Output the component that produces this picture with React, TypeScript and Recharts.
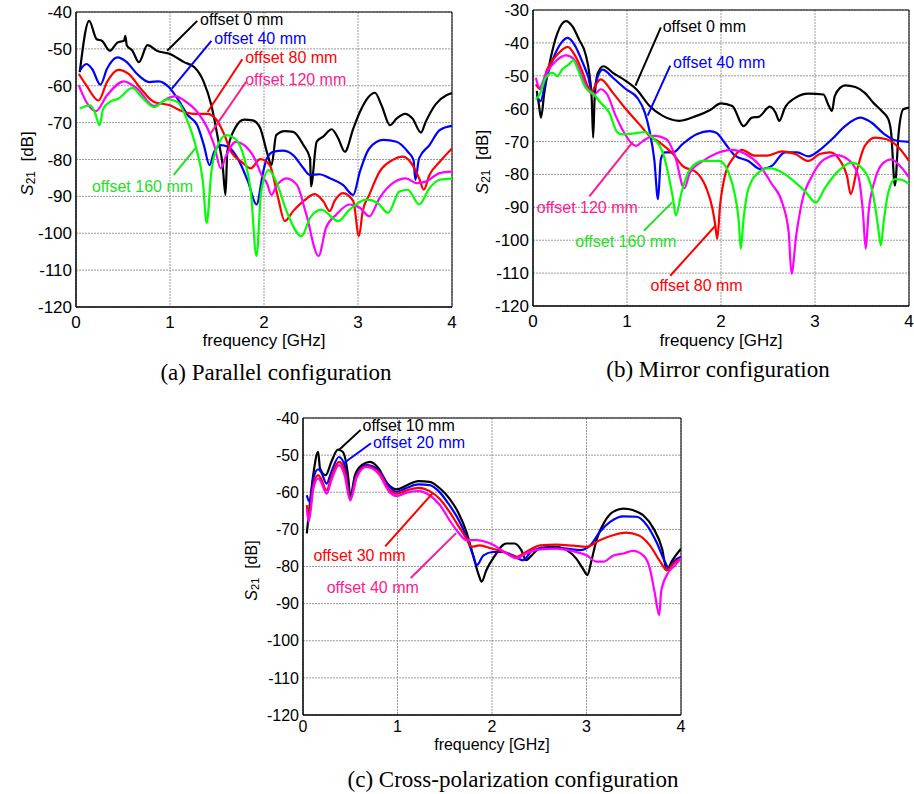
import {
  LineChart,
  Line,
  XAxis,
  YAxis,
  CartesianGrid,
  ReferenceLine,
  ReferenceDot,
  ReferenceArea,
} from "recharts";

type Pt = [number, number];

// (a) parallel configuration, [GHz, dB]
const pa0: Pt[] = [[0.04,-56.3],[0.14,-42.4],[0.22,-47.4],[0.275,-47.8],[0.36,-50.5],[0.44,-48.3],[0.51,-47.8],[0.525,-46.5],[0.54,-49],[0.6,-50.5],[0.67,-53.6],[0.76,-49],[0.86,-50.5],[1.0,-51.4],[1.15,-53.6],[1.26,-55],[1.36,-59],[1.44,-65.3],[1.51,-74.3],[1.56,-81.5],[1.59,-89.6],[1.61,-77.9],[1.69,-71.6],[1.79,-69.2],[1.88,-69.4],[1.96,-71.5],[2.03,-77.9],[2.08,-81.5],[2.13,-73.4],[2.22,-72.3],[2.31,-72.5],[2.42,-76.1],[2.49,-79.7],[2.5,-87.3],[2.56,-75.2],[2.63,-73.8],[2.72,-71.8],[2.79,-74.3],[2.86,-77.9],[2.95,-71.6],[3.02,-67.1],[3.11,-63.1],[3.18,-61.9],[3.25,-65.3],[3.34,-70.7],[3.41,-68.9],[3.5,-67.6],[3.58,-68.9],[3.67,-72.7],[3.72,-69.8],[3.83,-64.9],[3.94,-62.6],[4.0,-62]];
const pa40: Pt[] = [[0.04,-55.9],[0.11,-54.1],[0.17,-55.4],[0.26,-59.7],[0.33,-55.4],[0.44,-52.3],[0.54,-53.6],[0.65,-56.8],[0.78,-59],[0.88,-58.8],[0.99,-60.4],[1.08,-63.5],[1.19,-68],[1.29,-70.7],[1.36,-76.1],[1.42,-81.5],[1.47,-77.9],[1.54,-76.1],[1.61,-76.5],[1.72,-79.7],[1.83,-86],[1.92,-92.2],[1.99,-83.5],[2.03,-79.7],[2.1,-77.9],[2.2,-77.6],[2.31,-78.8],[2.42,-82.4],[2.49,-84.2],[2.59,-84],[2.7,-85.1],[2.84,-86.9],[2.95,-89.6],[3.02,-83.3],[3.12,-77],[3.27,-74.7],[3.41,-75.2],[3.53,-77.9],[3.59,-80.1],[3.61,-85.5],[3.65,-79.7],[3.76,-76.1],[3.87,-72],[4.0,-70.9]];
const pa80: Pt[] = [[0.03,-56.8],[0.11,-59.9],[0.24,-64],[0.33,-59],[0.45,-55.7],[0.56,-56.8],[0.69,-60.8],[0.83,-64.4],[1.0,-65.3],[1.11,-66.7],[1.26,-67.6],[1.4,-67.6],[1.51,-69.8],[1.58,-73.4],[1.65,-77.9],[1.76,-80.6],[1.86,-82.4],[1.96,-79.9],[2.06,-81.5],[2.15,-90.4],[2.22,-96.7],[2.31,-94],[2.42,-91.3],[2.54,-89.4],[2.63,-91.3],[2.7,-94],[2.75,-91.3],[2.84,-89.1],[2.95,-91.3],[3.01,-100.8],[3.05,-94],[3.12,-89.6],[3.23,-83.3],[3.37,-80.1],[3.48,-79.2],[3.58,-81.5],[3.65,-85.1],[3.7,-88.2],[3.76,-84.2],[3.87,-80.6],[4.0,-77]];
const pa120: Pt[] = [[0.03,-59.9],[0.11,-64.4],[0.21,-66.9],[0.33,-62.6],[0.51,-58.8],[0.65,-60.8],[0.83,-65.5],[0.97,-63.5],[1.06,-62.8],[1.15,-64],[1.29,-67.1],[1.4,-71.6],[1.47,-76.1],[1.54,-82.4],[1.6,-78.8],[1.7,-75.2],[1.79,-76.1],[1.9,-79.7],[1.98,-84.5],[2.03,-86.4],[2.08,-89.6],[2.13,-87.3],[2.24,-85.1],[2.35,-86.9],[2.45,-94.9],[2.58,-106.2],[2.66,-98.5],[2.77,-94.9],[2.91,-92.2],[3.02,-93.1],[3.12,-95.4],[3.23,-90.4],[3.37,-86.4],[3.51,-85.1],[3.62,-86.4],[3.72,-86],[3.87,-83.7],[4.0,-83.3]];
const pa160: Pt[] = [[0.04,-66.2],[0.15,-65.3],[0.2,-67.1],[0.25,-70.7],[0.29,-66.2],[0.36,-64.4],[0.45,-63.5],[0.6,-60.6],[0.7,-63.1],[0.83,-65.8],[0.97,-63.7],[1.08,-64.4],[1.19,-69.8],[1.28,-77],[1.35,-86],[1.39,-97.2],[1.44,-83.3],[1.51,-76.1],[1.6,-73.4],[1.69,-74.3],[1.79,-79.7],[1.86,-88.7],[1.92,-106.2],[1.97,-88.7],[2.05,-82.9],[2.13,-86],[2.24,-94],[2.4,-100.8],[2.49,-95.8],[2.61,-93.6],[2.79,-96.7],[2.91,-93.6],[3.09,-90.9],[3.21,-91.8],[3.32,-94.5],[3.44,-88.7],[3.53,-88.2],[3.65,-92.2],[3.76,-87.8],[3.87,-85.5],[4.0,-85.2]];

// (b) mirror configuration
const pb0: Pt[] = [[0.04,-54.6],[0.06,-58.2],[0.085,-62.7],[0.12,-55.2],[0.17,-47.1],[0.26,-37],[0.35,-33.4],[0.42,-35],[0.49,-39],[0.56,-43.5],[0.6,-49.6],[0.625,-57.2],[0.64,-68.8],[0.655,-57.2],[0.69,-49.1],[0.75,-47.1],[0.85,-49.1],[0.99,-51.6],[1.1,-54.1],[1.24,-59.2],[1.38,-62.2],[1.56,-63.7],[1.74,-62.2],[1.88,-60.5],[2.0,-58.4],[2.12,-59.2],[2.24,-65.3],[2.33,-62.7],[2.4,-62.5],[2.52,-59.4],[2.58,-61.2],[2.62,-63.7],[2.68,-59.7],[2.79,-56.7],[2.93,-55.4],[3.09,-55.7],[3.14,-58.7],[3.18,-60.7],[3.21,-56.2],[3.27,-53.6],[3.32,-52.9],[3.43,-53.4],[3.53,-55.2],[3.62,-58.2],[3.71,-60.7],[3.78,-63.2],[3.81,-67.3],[3.85,-83.4],[3.89,-67.3],[3.94,-60.2],[4.0,-59.7]];
const pb40: Pt[] = [[0.04,-55.7],[0.08,-57.7],[0.135,-51.6],[0.21,-45.1],[0.3,-40],[0.37,-38.5],[0.44,-40.5],[0.53,-46.1],[0.59,-50.6],[0.63,-55.2],[0.65,-54.1],[0.69,-50.1],[0.74,-48.1],[0.85,-50.6],[0.99,-54.1],[1.11,-56.7],[1.19,-61.2],[1.24,-66.8],[1.29,-75.4],[1.33,-87.5],[1.36,-75.4],[1.4,-73.3],[1.49,-73.3],[1.59,-70.8],[1.74,-67.8],[1.88,-66.8],[1.95,-67.3],[2.05,-70.8],[2.15,-74.3],[2.29,-75.9],[2.42,-78.4],[2.54,-77.4],[2.68,-73.3],[2.81,-73.3],[2.93,-74.5],[3.04,-72.8],[3.18,-69.3],[3.32,-65.3],[3.48,-62.7],[3.6,-64.2],[3.74,-67.8],[3.85,-69.6],[4.0,-70.1]];
const pb80: Pt[] = [[0.03,-52.6],[0.08,-54.1],[0.15,-48.1],[0.26,-43.5],[0.37,-41.2],[0.44,-43.5],[0.53,-49.1],[0.58,-53.1],[0.63,-54.6],[0.67,-52.6],[0.72,-51.1],[0.85,-55.2],[0.99,-60.2],[1.13,-64.7],[1.24,-68.3],[1.35,-70.3],[1.49,-73.8],[1.59,-77.4],[1.74,-79.4],[1.84,-83.9],[1.91,-90.5],[1.94,-95.6],[1.96,-99.6],[1.99,-89.5],[2.05,-79.4],[2.12,-75.4],[2.22,-72.5],[2.36,-74.3],[2.49,-74.3],[2.65,-73],[2.79,-73.8],[2.93,-75.9],[3.05,-73.8],[3.16,-73.3],[3.27,-75.9],[3.34,-80.4],[3.38,-86],[3.44,-79.4],[3.53,-71.3],[3.64,-68.8],[3.76,-69.3],[3.89,-71.8],[4.0,-75.9]];
const pb120: Pt[] = [[0.03,-50.6],[0.07,-53.6],[0.135,-49.6],[0.24,-45.6],[0.35,-43.8],[0.44,-45.1],[0.51,-49.1],[0.58,-54.1],[0.65,-55.7],[0.72,-54.1],[0.79,-55.7],[0.88,-62.2],[0.95,-66.3],[1.04,-70.3],[1.1,-71.3],[1.17,-69.8],[1.29,-68.3],[1.42,-69.3],[1.51,-74.3],[1.61,-84.2],[1.67,-79.4],[1.81,-75.9],[1.95,-73.6],[2.12,-72.5],[2.26,-73.8],[2.4,-76.9],[2.54,-82.9],[2.65,-88.5],[2.72,-97.6],[2.75,-110.2],[2.8,-98.6],[2.86,-88.5],[2.97,-80.4],[3.09,-75.6],[3.23,-74.1],[3.35,-75.4],[3.46,-80.4],[3.51,-91.5],[3.54,-102.6],[3.57,-91.5],[3.64,-81.4],[3.73,-76.4],[3.81,-75.4],[3.92,-77.9],[4.0,-80.9]];
const pb160: Pt[] = [[0.03,-57.2],[0.07,-55.7],[0.135,-50.6],[0.21,-49.1],[0.26,-50.1],[0.31,-48.1],[0.38,-46.6],[0.43,-45.3],[0.47,-47.6],[0.56,-53.6],[0.65,-55.7],[0.72,-58.2],[0.81,-61.2],[0.9,-67.3],[0.95,-67.8],[1.06,-67.6],[1.19,-67.1],[1.27,-68.8],[1.38,-73.3],[1.45,-81.4],[1.49,-87.5],[1.52,-92.5],[1.58,-85.5],[1.67,-78.4],[1.81,-75.9],[1.98,-75.9],[2.08,-79.4],[2.15,-86.5],[2.19,-94.5],[2.21,-102.6],[2.24,-93.5],[2.29,-84.5],[2.4,-79.4],[2.51,-78.1],[2.65,-79.4],[2.79,-82.4],[2.89,-85],[3.01,-88.5],[3.11,-83.9],[3.25,-78.9],[3.39,-76.4],[3.51,-78.4],[3.62,-86.5],[3.67,-95.6],[3.7,-101.6],[3.73,-94.5],[3.78,-85.5],[3.85,-81.4],[3.92,-81.6],[4.0,-82.9]];

// (c) cross-polarization configuration
const pc10: Pt[] = [[0.04,-71.1],[0.06,-66.2],[0.11,-55],[0.16,-49.1],[0.18,-53.6],[0.24,-55.4],[0.3,-51.8],[0.37,-48.5],[0.42,-49.1],[0.48,-56.3],[0.5,-61.3],[0.55,-55.4],[0.62,-52.7],[0.71,-51.8],[0.8,-53.6],[0.88,-57.2],[0.99,-59.2],[1.1,-58.1],[1.22,-57],[1.34,-57.2],[1.45,-59],[1.55,-61.7],[1.64,-65.3],[1.73,-70.7],[1.8,-77],[1.86,-82.3],[1.89,-84.1],[1.94,-81],[2.02,-77.5],[2.15,-73.8],[2.24,-73.8],[2.31,-75.6],[2.36,-78.3],[2.42,-77],[2.51,-75],[2.68,-74.7],[2.79,-75.6],[2.89,-77.8],[2.96,-80.5],[3.01,-82.3],[3.05,-78.7],[3.11,-72.5],[3.19,-68],[3.28,-65.3],[3.39,-64.4],[3.49,-64.8],[3.6,-66.2],[3.71,-69.8],[3.8,-75.2],[3.85,-81],[3.9,-78.7],[4.0,-75.2]];
const pc20: Pt[] = [[0.04,-60.8],[0.07,-62.6],[0.11,-56.3],[0.16,-53.8],[0.19,-54.5],[0.25,-57.7],[0.3,-54.5],[0.38,-50.5],[0.44,-52.7],[0.5,-61.3],[0.57,-55],[0.67,-52.7],[0.8,-54.1],[0.92,-58.6],[0.99,-59.9],[1.1,-58.8],[1.22,-57.9],[1.34,-58.1],[1.45,-60.1],[1.55,-63.5],[1.64,-67.1],[1.73,-72],[1.8,-77],[1.84,-79.6],[1.91,-77],[2.01,-76.1],[2.12,-76.1],[2.22,-77],[2.33,-78.3],[2.43,-75.6],[2.61,-75],[2.79,-75.2],[2.93,-75.6],[3.04,-74.3],[3.14,-70.7],[3.25,-68],[3.39,-66.5],[3.53,-66.6],[3.64,-68.9],[3.74,-73.4],[3.83,-78.7],[3.87,-80.5],[3.92,-78.7],[4.0,-77.4]];
const pc30: Pt[] = [[0.04,-63.5],[0.06,-66.6],[0.11,-58.1],[0.16,-55.4],[0.19,-56.3],[0.25,-59.5],[0.3,-55.9],[0.38,-51.8],[0.44,-54.1],[0.5,-61.7],[0.57,-55.4],[0.67,-53],[0.8,-54.5],[0.92,-59.5],[0.99,-60.4],[1.1,-59.5],[1.22,-58.8],[1.34,-59.7],[1.45,-61.9],[1.55,-65.3],[1.64,-68.9],[1.73,-72.5],[1.78,-74.7],[1.87,-74.3],[1.99,-75.1],[2.12,-76.1],[2.26,-77.4],[2.36,-76.1],[2.51,-74.3],[2.68,-74.1],[2.86,-74.4],[3.0,-74.7],[3.14,-72.9],[3.28,-71.6],[3.42,-70.9],[3.55,-71.6],[3.67,-74.3],[3.78,-78.7],[3.85,-81],[3.92,-79.2],[4.0,-77.8]];
const pc40: Pt[] = [[0.04,-64.4],[0.06,-68],[0.11,-59],[0.16,-56.3],[0.19,-57.2],[0.25,-60.4],[0.3,-56.8],[0.38,-52.7],[0.44,-55.4],[0.5,-62.2],[0.57,-55.9],[0.67,-53.2],[0.8,-55],[0.92,-60.1],[0.99,-61],[1.1,-60.1],[1.22,-59.7],[1.34,-60.8],[1.45,-63.5],[1.55,-67.5],[1.64,-70.7],[1.73,-72.9],[1.84,-72.9],[1.94,-73.4],[2.0,-74],[2.12,-75.9],[2.26,-77.8],[2.36,-76.5],[2.51,-75.4],[2.68,-75.2],[2.86,-75.9],[3.0,-77],[3.11,-78.7],[3.18,-78.7],[3.28,-77.1],[3.39,-76.5],[3.49,-75.8],[3.6,-77],[3.67,-80.5],[3.72,-86.8],[3.77,-93.1],[3.79,-86.8],[3.85,-82.3],[3.94,-79.6],[4.0,-77.8]];

const xTicks = [0, 1, 2, 3, 4];
const yTicksA = [-120, -110, -100, -90, -80, -70, -60, -50, -40];
const yTicksB = [-120, -110, -100, -90, -80, -70, -60, -50, -40, -30];

const BLACK = "#000000";
const BLUE = "#0000ff";
const RED = "#ff0000";
const MAGENTA = "#ff00ff";
const GREEN = "#00ff00";
const PINK = "#ff1a8c";
const GREENTXT = "#22e022";

type Series = { pts: Pt[]; color: string };
type Note = { text: string; color: string; tx: number; ty: number; x1: number; y1: number; x2: number; y2: number };

const seriesA: Series[] = [
  { pts: pa0, color: BLACK },
  { pts: pa40, color: BLUE },
  { pts: pa80, color: RED },
  { pts: pa120, color: MAGENTA },
  { pts: pa160, color: GREEN },
];
const seriesB: Series[] = [
  { pts: pb0, color: BLACK },
  { pts: pb40, color: BLUE },
  { pts: pb80, color: RED },
  { pts: pb120, color: MAGENTA },
  { pts: pb160, color: GREEN },
];
const seriesC: Series[] = [
  { pts: pc10, color: BLACK },
  { pts: pc20, color: BLUE },
  { pts: pc30, color: RED },
  { pts: pc40, color: MAGENTA },
];

// annotation labels and their pointer lines, in data units
const notesA: Note[] = [
  { text: "offset 0 mm", color: BLACK, tx: 1.32, ty: -41.9, x1: 1.29, y1: -42.4, x2: 0.97, y2: -50.5 },
  { text: "offset 40 mm", color: BLUE, tx: 1.47, ty: -47.1, x1: 1.44, y1: -47.8, x2: 1.02, y2: -60.8 },
  { text: "offset 80 mm", color: RED, tx: 1.8, ty: -52.3, x1: 1.77, y1: -52.8, x2: 1.4, y2: -67.1 },
  { text: "offset 120 mm", color: PINK, tx: 1.8, ty: -58.3, x1: 1.81, y1: -58.9, x2: 1.43, y2: -73 },
  { text: "offset 160 mm", color: GREENTXT, tx: 0.17, ty: -87.2, x1: 1.04, y1: -84.2, x2: 1.27, y2: -77 },
];
const notesB: Note[] = [
  { text: "offset 0 mm", color: BLACK, tx: 1.38, ty: -35.1, x1: 1.36, y1: -35.3, x2: 1.09, y2: -53 },
  { text: "offset 40 mm", color: BLUE, tx: 1.49, ty: -45.9, x1: 1.46, y1: -46.9, x2: 1.22, y2: -62.1 },
  { text: "offset 120 mm", color: PINK, tx: 0.04, ty: -90, x1: 0.6, y1: -86.7, x2: 1.06, y2: -70.2 },
  { text: "offset 160 mm", color: GREENTXT, tx: 0.45, ty: -100.3, x1: 1.18, y1: -97.1, x2: 1.48, y2: -88.5 },
  { text: "offset 80 mm", color: RED, tx: 1.25, ty: -113.8, x1: 1.46, y1: -110.8, x2: 1.94, y2: -95.6 },
];
const notesC: Note[] = [
  { text: "offset 10 mm", color: BLACK, tx: 0.63, ty: -41.9, x1: 0.61, y1: -43.2, x2: 0.38, y2: -48.6 },
  { text: "offset 20 mm", color: BLUE, tx: 0.74, ty: -46.6, x1: 0.72, y1: -46.8, x2: 0.43, y2: -52.2 },
  { text: "offset 30 mm", color: RED, tx: 0.11, ty: -77, x1: 0.87, y1: -74.6, x2: 1.37, y2: -60.3 },
  { text: "offset 40 mm", color: PINK, tx: 0.25, ty: -85.6, x1: 1.14, y1: -83.1, x2: 1.62, y2: -71 },
];

const S21Label = ({ viewBox, dx, fs }: any) => {
  const x = viewBox.x + dx;
  const y = viewBox.y + viewBox.height / 2 + 4;
  return (
    <text
      x={x}
      y={y}
      transform={`rotate(-90 ${x} ${y})`}
      textAnchor="middle"
      dominantBaseline="central"
      fontSize={fs}
      fill="#000"
    >
      <tspan fontStyle="italic">S</tspan>
      <tspan fontSize={fs - 5} dy={4}>21</tspan>
      <tspan dy={-4}>{"\u00a0\u00a0[dB]"}</tspan>
    </text>
  );
};

type PanelProps = {
  left: number;
  top: number;
  width: number;
  height: number;
  marginTop: number;
  marginRight: number;
  yWidth: number;
  xHeight: number;
  xTickSize: number;
  xLabelOffset: number;
  labelDx: number;
  fontSize: number;
  yMax: number;
  yTicks: number[];
  series: Series[];
  notes: Note[];
};

const Panel = (p: PanelProps) => (
  <div style={{ position: "absolute", left: p.left, top: p.top }}>
    <LineChart
      width={p.width}
      height={p.height}
      margin={{ top: p.marginTop, right: p.marginRight, left: 0, bottom: 0 }}
    >
      <CartesianGrid stroke="#9a9a9a" strokeDasharray="2 1" />
      <XAxis
        dataKey="f"
        type="number"
        domain={[0, 4]}
        ticks={xTicks}
        allowDataOverflow
        height={p.xHeight}
        tickLine={false}
        tickSize={p.xTickSize}
        tickMargin={2}
        axisLine={{ stroke: "#000" }}
        tick={{ fill: "#000", fontSize: p.fontSize }}
        label={{ value: "frequency [GHz]", position: "insideBottom", offset: p.xLabelOffset, fill: "#000", fontSize: p.fontSize }}
      />
      <YAxis
        type="number"
        domain={[-120, p.yMax]}
        ticks={p.yTicks}
        allowDataOverflow
        width={p.yWidth}
        tickLine={false}
        tickSize={2}
        tickMargin={2}
        axisLine={{ stroke: "#000" }}
        tick={{ fill: "#000", fontSize: p.fontSize }}
        label={<S21Label dx={p.labelDx} fs={p.fontSize} />}
      />
      <ReferenceArea x1={0} x2={4} y1={-120} y2={p.yMax} fill="none" stroke="#000" strokeWidth={1} />
      {p.series.map((s, i) => (
        <Line
          key={i}
          data={s.pts.map(([f, v]) => ({ f, v }))}
          dataKey="v"
          type="monotone"
          stroke={s.color}
          strokeWidth={2.2}
          dot={false}
          activeDot={false}
          isAnimationActive={false}
        />
      ))}
      {p.notes.map((n, i) => (
        <ReferenceLine
          key={"l" + i}
          segment={[{ x: n.x1, y: n.y1 }, { x: n.x2, y: n.y2 }]}
          stroke={n.color}
          strokeWidth={2}
        />
      ))}
      {p.notes.map((n, i) => (
        <ReferenceDot
          key={"t" + i}
          x={n.tx}
          y={n.ty}
          r={0}
          fill="none"
          stroke="none"
          label={{ value: n.text, position: "right", offset: 0, fill: n.color, fontSize: 16 }}
        />
      ))}
    </LineChart>
  </div>
);

const captionStyle = {
  position: "absolute" as const,
  width: 400,
  textAlign: "center" as const,
  fontFamily: '"Liberation Serif", "Times New Roman", serif',
  fontSize: 23,
  lineHeight: "26px",
  color: "#000",
};

export default function App() {
  return (
    <div
      style={{
        position: "absolute",
        left: 0,
        top: 0,
        width: 914,
        height: 794,
        background: "#fff",
        fontFamily: '"Liberation Sans", Arial, sans-serif',
      }}
    >
      <Panel
        left={0} top={0} width={458} height={352}
        marginTop={12} marginRight={6} yWidth={76} xHeight={45}
        xTickSize={7} xLabelOffset={6} labelDx={27} fontSize={17}
        yMax={-40} yTicks={yTicksA} series={seriesA} notes={notesA}
      />
      <Panel
        left={458} top={0} width={456} height={352}
        marginTop={10} marginRight={5} yWidth={75} xHeight={46}
        xTickSize={7} xLabelOffset={6} labelDx={24} fontSize={17}
        yMax={-30} yTicks={yTicksB} series={seriesB} notes={notesB}
      />
      <Panel
        left={230} top={405} width={457} height={355}
        marginTop={13} marginRight={6} yWidth={73} xHeight={45}
        xTickSize={4} xLabelOffset={10} labelDx={21} fontSize={16}
        yMax={-40} yTicks={yTicksA} series={seriesC} notes={notesC}
      />
      <div style={{ ...captionStyle, left: 76, top: 360 }}>(a) Parallel configuration</div>
      <div style={{ ...captionStyle, left: 518, top: 357 }}>(b) Mirror configuration</div>
      <div style={{ ...captionStyle, left: 313, top: 767 }}>(c) Cross-polarization configuration</div>
    </div>
  );
}
